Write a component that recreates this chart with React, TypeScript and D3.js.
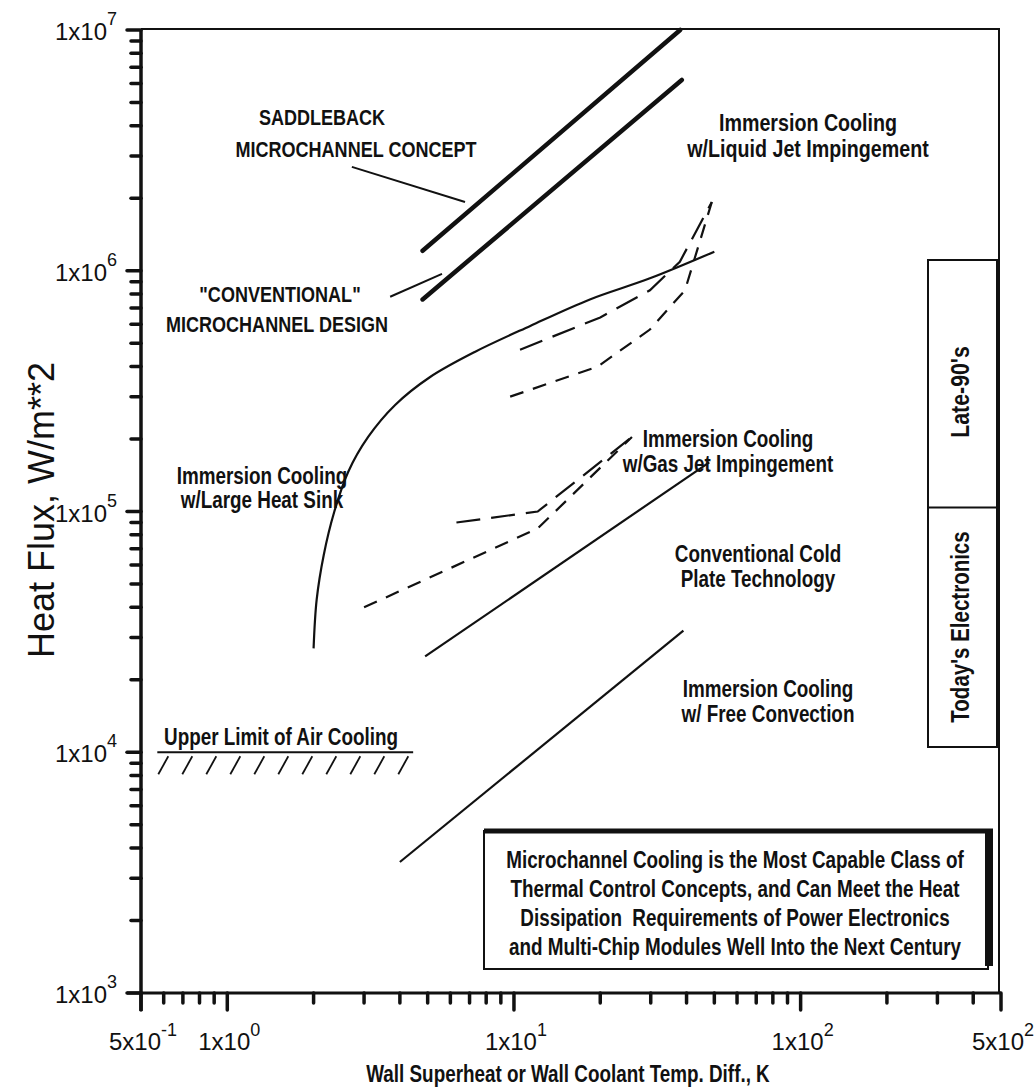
import React from "react";
import * as d3 from "d3";

// Canvas
const W = 1035;
const H = 1092;

// Axes (log-log)
const X_DOMAIN: [number, number] = [0.5, 500];
const Y_DOMAIN: [number, number] = [1e3, 1e7];

const xMajorTicks = [0.5, 1, 10, 100, 500];
const xMinorTicks = [0.6, 0.7, 0.8, 0.9, 2, 3, 4, 5, 6, 7, 8, 9, 20, 30, 40, 50, 60, 70, 80, 90, 200, 300, 400];
const yMajorTicks = [1e3, 1e4, 1e5, 1e6, 1e7];
const yMinorTicks = [
  2e3, 3e3, 4e3, 5e3, 6e3, 7e3, 8e3, 9e3,
  2e4, 3e4, 4e4, 5e4, 6e4, 7e4, 8e4, 9e4,
  2e5, 3e5, 4e5, 5e5, 6e5, 7e5, 8e5, 9e5,
  2e6, 3e6, 4e6, 5e6, 6e6, 7e6, 8e6, 9e6,
];

const xTickLabels = [
  { value: 0.5, mant: "5x10", exp: "-1" },
  { value: 1, mant: "1x10", exp: "0" },
  { value: 10, mant: "1x10", exp: "1" },
  { value: 100, mant: "1x10", exp: "2" },
  { value: 500, mant: "5x10", exp: "2" },
];
const yTickLabels = [
  { value: 1e3, mant: "1x10", exp: "3" },
  { value: 1e4, mant: "1x10", exp: "4" },
  { value: 1e5, mant: "1x10", exp: "5" },
  { value: 1e6, mant: "1x10", exp: "6" },
  { value: 1e7, mant: "1x10", exp: "7" },
];

// Cooling technology envelopes: [temperature difference K, heat flux W/m^2]
const saddleback: [number, number][] = [[4.8, 1.21e6], [38, 1e7]];
const conventionalMicro: [number, number][] = [[4.8, 7.6e5], [38.5, 6.2e6]];
const coldPlate: [number, number][] = [[4.9, 2.5e4], [48, 1.6e5]];
const freeConvection: [number, number][] = [[4.0, 3.5e3], [39, 3.2e4]];
const airCoolingLimit: [number, number][] = [[0.57, 1e4], [4.45, 1e4]];
const largeHeatSink: [number, number][] = [
  [2.0, 2.7e4], [2.05, 4.3e4], [2.17, 6.6e4], [2.36, 9.95e4], [2.64, 1.46e5], [3.1, 2.04e5],
  [3.85, 2.77e5], [5.1, 3.62e5], [7.3, 4.6e5], [11.4, 5.9e5], [18.4, 7.6e5], [29.8, 9.3e5], [50, 1.2e6],
];
const gasJetUpper: [number, number][] = [[6.3, 9.0e4], [12.1, 1.0e5], [25.8, 2.04e5]];
const gasJetLower: [number, number][] = [[3.0, 4.0e4], [12.1, 8.5e4], [25.8, 2.04e5]];
const liquidJetUpper: [number, number][] = [[10.5, 4.7e5], [20, 6.4e5], [29.8, 8.3e5], [37.9, 1.09e6], [49, 1.93e6]];
const liquidJetLower: [number, number][] = [[9.7, 3.0e5], [19.6, 4.0e5], [29.8, 5.7e5], [39.5, 8.3e5], [49, 1.93e6]];

// Callout leaders
const saddlebackLeader: [number, number][] = [[2.72, 2.7e6], [6.75, 1.93e6]];
const conventionalLeader: [number, number][] = [[3.7, 7.8e5], [5.61, 9.7e5]];

const boxLines = [
  "Microchannel Cooling is the Most Capable Class of",
  "Thermal Control Concepts, and Can Meet the Heat",
  "Dissipation  Requirements of Power Electronics",
  "and Multi-Chip Modules Well Into the Next Century",
];

const SANS = "'Liberation Sans', Arial, Helvetica, sans-serif";
const NARROW_SCALE = 0.82;

// Condensed bold text (Helvetica-Narrow look) drawn by squeezing a sans face
function NText(props: {
  x: number;
  y: number;
  size?: number;
  rotate?: number;
  weight?: string;
  children: React.ReactNode;
}) {
  const { x, y, size = 23, rotate = 0, weight = "bold", children } = props;
  const rot = rotate ? ` rotate(${rotate})` : "";
  return (
    <text
      transform={`translate(${x},${y})${rot} scale(${NARROW_SCALE},1)`}
      textAnchor="middle"
      fontFamily={SANS}
      fontWeight={weight}
      fontSize={size}
      fill="#111"
      style={{ whiteSpace: "pre" }}
    >
      {children}
    </text>
  );
}

export default function App() {
  const x = d3.scaleLog().domain(X_DOMAIN).range([141, 1001]);
  const y = d3.scaleLog().domain(Y_DOMAIN).range([993, 30]);

  const straight = d3.line<[number, number]>().x((d) => x(d[0])).y((d) => y(d[1]));
  const smooth = d3
    .line<[number, number]>()
    .x((d) => x(d[0]))
    .y((d) => y(d[1]))
    .curve(d3.curveCatmullRom.alpha(0.5));

  const x0 = x(X_DOMAIN[0]);
  const x1 = x(X_DOMAIN[1]);
  const y0 = y(Y_DOMAIN[0]);
  const y1 = y(Y_DOMAIN[1]);

  // hatching under the air cooling limit
  const airStart = x(airCoolingLimit[0][0]);
  const airEnd = x(airCoolingLimit[1][0]);
  const airY = y(airCoolingLimit[0][1]);
  const hatches: number[] = [];
  for (let hx = airStart + 1; hx + 10 <= airEnd; hx += 24) hatches.push(hx);

  const annot = (lines: string[], cx: number, by: number, gap = 25, size = 23) => (
    <g>
      {lines.map((t, i) => (
        <NText key={i} x={cx} y={by + i * gap} size={size}>
          {t}
        </NText>
      ))}
    </g>
  );

  return (
    <svg
      width={W}
      height={H}
      viewBox={`0 0 ${W} ${H}`}
      style={{ position: "absolute", left: 0, top: 0, background: "#fff" }}
    >
      <rect x={0} y={0} width={W} height={H} fill="#fff" />

      {/* frame */}
      <line x1={x0} y1={y1 - 1} x2={x1 - 2} y2={y1 - 1} stroke="#111" strokeWidth={2} />
      <line x1={x1 - 2} y1={y1 - 2} x2={x1 - 2} y2={y0} stroke="#111" strokeWidth={2} />
      <line x1={x0} y1={y1 - 1} x2={x0} y2={y0 + 18} stroke="#111" strokeWidth={3.5} />
      <line x1={x0 - 14} y1={y0} x2={x1} y2={y0} stroke="#111" strokeWidth={3} />

      {/* y ticks */}
      {yMajorTicks.map((v) => (
        <line key={"ym" + v} x1={x0 - 14} x2={x0} y1={y(v)} y2={y(v)} stroke="#111" strokeWidth={3.5} strokeLinecap="round" />
      ))}
      {yMinorTicks.map((v) => (
        <line key={"yn" + v} x1={x0 - 10} x2={x0} y1={y(v)} y2={y(v)} stroke="#111" strokeWidth={3.5} strokeLinecap="round" />
      ))}
      {/* x ticks */}
      {xMajorTicks.map((v) => (
        <line key={"xm" + v} x1={x(v)} x2={x(v)} y1={y0} y2={y0 + 17} stroke="#111" strokeWidth={3.5} strokeLinecap="round" />
      ))}
      {xMinorTicks.map((v) => (
        <line key={"xn" + v} x1={x(v)} x2={x(v)} y1={y0} y2={y0 + 10} stroke="#111" strokeWidth={3.5} strokeLinecap="round" />
      ))}

      {/* tick labels */}
      {yTickLabels.map((t) => (
        <text key={"yl" + t.value} x={117} y={y(t.value) + 10} textAnchor="end" fontFamily={SANS} fontSize={24} fill="#111">
          {t.mant}
          <tspan fontSize={18} dy={-15}>{t.exp}</tspan>
        </text>
      ))}
      {xTickLabels.map((t) => (
        <text key={"xl" + t.value} x={x(t.value) + 2} y={1050} textAnchor="middle" fontFamily={SANS} fontSize={24} fill="#111">
          {t.mant}
          <tspan fontSize={18} dy={-14}>{t.exp}</tspan>
        </text>
      ))}

      {/* axis titles */}
      <text transform="translate(54,510) rotate(-90)" textAnchor="middle" fontFamily={SANS} fontSize={36} fill="#111">
        Heat Flux, W/m**2
      </text>
      <NText x={568} y={1082} size={23}>
        Wall Superheat or Wall Coolant Temp. Diff., K
      </NText>

      {/* technology lines */}
      <path d={straight(saddleback) || ""} stroke="#111" strokeWidth={4.5} fill="none" strokeLinecap="round" />
      <path d={straight(conventionalMicro) || ""} stroke="#111" strokeWidth={4.5} fill="none" strokeLinecap="round" />
      <path d={straight(coldPlate) || ""} stroke="#111" strokeWidth={2.2} fill="none" />
      <path d={straight(freeConvection) || ""} stroke="#111" strokeWidth={2.2} fill="none" />
      <path d={smooth(largeHeatSink) || ""} stroke="#111" strokeWidth={2.2} fill="none" />
      <path d={straight(gasJetUpper) || ""} stroke="#111" strokeWidth={2.2} fill="none" strokeDasharray="24 11" />
      <path d={straight(gasJetLower) || ""} stroke="#111" strokeWidth={2.2} fill="none" strokeDasharray="14 10" />
      <path d={straight(liquidJetUpper) || ""} stroke="#111" strokeWidth={2.2} fill="none" strokeDasharray="24 11" />
      <path d={straight(liquidJetLower) || ""} stroke="#111" strokeWidth={2.2} fill="none" strokeDasharray="14 10" />

      {/* air cooling limit with hatching */}
      <path d={straight(airCoolingLimit) || ""} stroke="#111" strokeWidth={2.2} fill="none" />
      {hatches.map((hx) => (
        <line key={"h" + hx} x1={hx} y1={airY + 22} x2={hx + 10} y2={airY + 4} stroke="#111" strokeWidth={1.8} />
      ))}

      {/* leaders */}
      <path d={straight(saddlebackLeader) || ""} stroke="#111" strokeWidth={2} fill="none" />
      <path d={straight(conventionalLeader) || ""} stroke="#111" strokeWidth={2} fill="none" />

      {/* annotations */}
      <NText x={322} y={125} size={22}>SADDLEBACK</NText>
      <NText x={356} y={157} size={22}>MICROCHANNEL CONCEPT</NText>
      <NText x={280} y={302} size={22}>"CONVENTIONAL"</NText>
      <NText x={277} y={332} size={22}>MICROCHANNEL DESIGN</NText>

      {annot(["Immersion Cooling", "w/Liquid Jet Impingement"], 808, 131, 26, 24)}
      {annot(["Immersion Cooling", "w/Gas Jet Impingement"], 728, 447)}
      {annot(["Immersion Cooling", "w/Large Heat Sink"], 262, 484, 24)}
      {annot(["Conventional Cold", "Plate Technology"], 758, 562)}
      {annot(["Immersion Cooling", "w/ Free Convection"], 768, 697)}
      {annot(["Upper Limit of Air Cooling"], 281, 745)}

      {/* era band */}
      <rect x={928} y={260} width={69} height={487} fill="none" stroke="#111" strokeWidth={2} />
      <line x1={928} x2={997} y1={y(1e5) - 4} y2={y(1e5) - 4} stroke="#111" strokeWidth={2} />
      <NText x={969} y={392} size={26} rotate={-90}>Late-90's</NText>
      <NText x={969} y={627} size={25} rotate={-90}>Today's Electronics</NText>

      {/* conclusion box */}
      <rect x={484} y={831} width={504} height={138} fill="#fff" stroke="#111" strokeWidth={2} />
      <line x1={484} x2={993} y1={831} y2={831} stroke="#111" strokeWidth={5} />
      <rect x={985} y={829} width={8} height={137} fill="#111" />
      {boxLines.map((t, i) => (
        <NText key={"b" + i} x={735} y={868 + i * 29} size={23}>
          {t}
        </NText>
      ))}
    </svg>
  );
}
